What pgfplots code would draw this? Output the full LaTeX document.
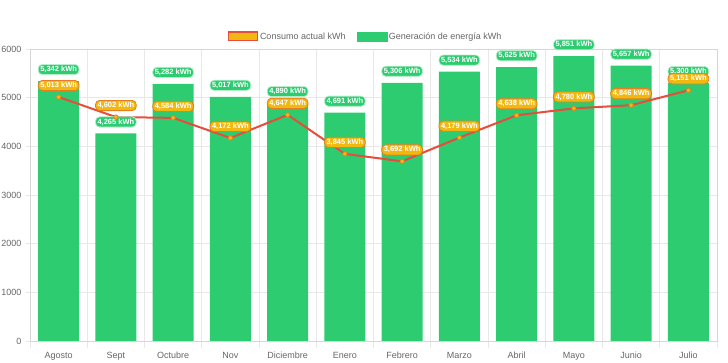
\documentclass[border=0pt]{standalone}
\usepackage{fontspec}
\setmainfont{Liberation Sans}
\usepackage{pgfplots}
\pgfplotsset{compat=1.18}
\definecolor{gen}{HTML}{2ECC71}
\definecolor{lin}{HTML}{E74C3C}
\definecolor{yel}{HTML}{F1B80F}
\definecolor{org}{HTML}{E67E22}
\definecolor{gridc}{HTML}{E8E8E8}
\definecolor{axc}{HTML}{D6D6D6}
\definecolor{tickc}{HTML}{666666}
\begin{document}
\begin{tikzpicture}[x=1pt,y=1pt]
\path[use as bounding box] (0,0) rectangle (728,363);
\begin{axis}[at={(30pt,22pt)}, anchor=south west, scale only axis,
  width=687pt, height=292pt,
  xmin=-0.5, xmax=11.5, ymin=0, ymax=6000,
  xtick={0,...,11},
  xticklabels={Agosto,Sept,Octubre,Nov,Diciembre,Enero,Febrero,Marzo,Abril,Mayo,Junio,Julio},
  minor xtick={-0.5,0.5,...,11.5},
  ytick={0,1000,...,6000},
  xminorgrids=true, ymajorgrids=true,
  grid style={draw=gridc, line width=0.8pt},
  minor grid style={draw=gridc, line width=0.8pt},
  axis line style={draw=axc, line width=0.8pt},
  tick align=outside, major tick length=4pt, minor tick length=7pt,
  tick style={draw=gridc, line width=0.8pt},
  every major x tick/.append style={draw=none},
  xtick pos=bottom, ytick pos=left,
  /pgf/number format/assume math mode=true,
  /pgf/number format/1000 sep={},
  ticklabel style={font=\fontsize{9}{11}\selectfont, text=tickc},
  xticklabel style={yshift=-3pt, text height=7pt, text depth=2pt},
  yticklabel style={xshift=-1pt},
  clip=false,
  legend style={draw=none, fill=none, at={(0.5,1)}, anchor=south, xshift=-8pt, yshift=4pt,
    font=\fontsize{9}{11}\selectfont, text=tickc, legend columns=2,
    /tikz/every even column/.append style={column sep=9pt}},
  legend cell align=left,
]
\addlegendimage{legend image code/.code={\draw[fill=yel,draw=lin,line width=1.5pt] (-3pt,-4pt) rectangle (26pt,4.5pt);}}
\addlegendentry{Consumo actual kWh}
\addlegendimage{legend image code/.code={\fill[gen] (-3pt,-4pt) rectangle (27pt,5pt);}}
\addlegendentry{Generación de energía kWh}

\addplot[ybar, bar width=41pt, bar shift=0pt, fill=gen, draw=none, forget plot,
  nodes near coords={\pgfmathprintnumber[1000 sep={,}]{\pgfplotspointmeta}~kWh},
  every node near coord/.append style={fill=gen, draw=gen!35!white, line width=0.8pt, text=white,
    font=\bfseries\fontsize{7.5}{8}\selectfont, rounded corners=4pt, inner xsep=2pt, inner ysep=1.8pt,
    anchor=south, yshift=6pt}]
coordinates {(0,5342) (1,4265) (2,5282) (3,5017) (4,4890) (5,4691) (6,5306) (7,5534) (8,5625) (9,5851) (10,5657) (11,5300)};

\addplot[draw=lin, line width=2pt, mark=*, mark size=2.2pt,
  mark options={fill=yel, draw=org, line width=0.7pt}, forget plot,
  nodes near coords={\pgfmathprintnumber[1000 sep={,}]{\pgfplotspointmeta}~kWh},
  every node near coord/.append style={fill=yel, draw=org, line width=0.8pt, text=white,
    font=\bfseries\fontsize{7.5}{8}\selectfont, rounded corners=4pt, inner xsep=2pt, inner ysep=1.8pt,
    anchor=south, yshift=6pt}]
coordinates {(0,5013) (1,4602) (2,4584) (3,4172) (4,4647) (5,3845) (6,3692) (7,4179) (8,4638) (9,4780) (10,4846) (11,5151)};
\end{axis}
\end{tikzpicture}
\end{document}
